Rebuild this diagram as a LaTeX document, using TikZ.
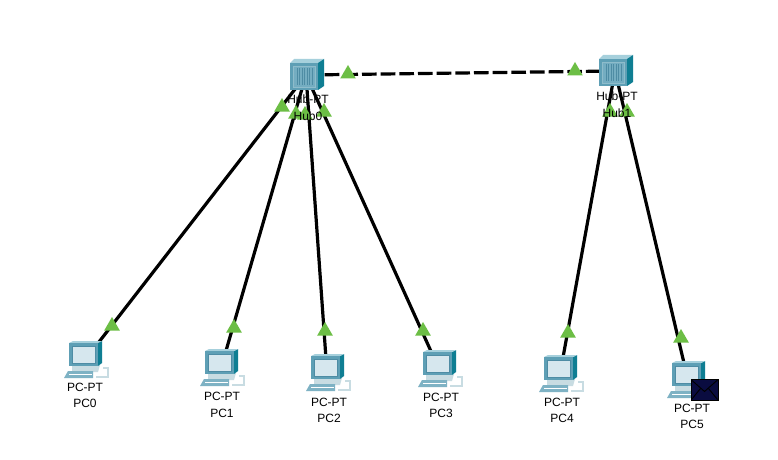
\documentclass[tikz,border=0pt]{standalone}
\usepackage{fontspec}
\setmainfont{Liberation Sans}
\usetikzlibrary{shapes.geometric}
\definecolor{linkgreen}{HTML}{6CBE45}
\definecolor{boxface}{HTML}{5E9FB5}
\definecolor{boxinner}{HTML}{74ADC1}
\definecolor{boxtop}{HTML}{A6D0DC}
\definecolor{boxside}{HTML}{0F7E93}
\definecolor{boxvent}{HTML}{4E8CA4}
\definecolor{screenpale}{HTML}{D6E7EE}
\definecolor{kbdpale}{HTML}{C8DCE2}
\definecolor{mailnavy}{HTML}{0A0C40}
\tikzset{
  x=0.75pt, y=-0.75pt,
  anchorpt/.style={inner sep=0pt, minimum size=0pt, outer sep=0pt},
  wire/.style={line width=2.4pt, black},
  dashwire/.style={wire, dash pattern=on 11pt off 3pt},
  portmark/.style={regular polygon, regular polygon sides=3, fill=linkgreen, inner sep=0pt, minimum size=13.5pt, draw=none},
  devlabel/.style={font=\fontsize{9}{9}\selectfont, inner sep=0pt, black},
  hubicon/.pic={
    % box with a slanted top and side, grille on the front face
    \fill[boxtop] (-16,-12) -- (-12,-16) -- (18,-16) -- (13,-12) -- cycle;
    \fill[boxside] (12,-12) -- (18,-16) -- (18,11) -- (12,15) -- cycle;
    \fill[boxface] (-16,-12) rectangle (12,15);
    \fill[boxinner] (-13,-9) rectangle (9,12);
    \draw[boxface!70!white, line width=0.5pt] (-13,-9) rectangle (9,12);
    \foreach \v in {-9,-6.5,-4,-1.5,1,3.5,6}
      \draw[boxvent, line width=0.6pt] (\v,-7) -- (\v,10);
  },
  pcicon/.pic={
    % keyboard and base
    \fill[kbdpale] (-13,5) -- (15,5) -- (13,12) -- (-13,12) -- cycle;
    \fill[boxface!80!white] (-17,11) -- (8,11) -- (8,18) -- (-21,18) -- cycle;
    \draw[white, line width=0.4pt] (-16,14) -- (7,14);
    \draw[kbdpale, line width=0.9pt] (18,8) -- (23,8) -- (23,17) -- (11,17);
    % monitor
    \fill[boxside] (13,-17) -- (17,-19) -- (17,3) -- (13,6) -- cycle;
    \fill[boxtop] (-16,-17) -- (-12,-19) -- (17,-19) -- (13,-17) -- cycle;
    \fill[boxface] (-16,-17) rectangle (13,6);
    \fill[screenpale] (-13,-14) rectangle (10,3);
    \draw[boxvent, line width=0.4pt] (-13,-14) rectangle (10,3);
  },
  envelopeicon/.pic={
    \fill[mailnavy] (-13.5,-10.5) rectangle (13.5,10.5);
    \draw[black, line width=0.6pt] (-13.5,-10.5) rectangle (13.5,10.5);
    \draw[black, line width=0.7pt] (-13,-9.5) -- (0,2) -- (13,-9.5);
    \draw[black, line width=0.7pt] (-13,10) -- (-4,-1) (13,10) -- (4,-1);
  }
}
\begin{document}
\begin{tikzpicture}
\useasboundingbox (0,0) rectangle (778,460);
\fill[white] (0,0) rectangle (778,460);

% device positions
\node[anchorpt] (hub0) at (306,75) {};
\node[anchorpt] (hub1) at (615,71) {};
\node[anchorpt] (pc0) at (85,360) {};
\node[anchorpt] (pc1) at (221,368) {};
\node[anchorpt] (pc2) at (327,373) {};
\node[anchorpt] (pc3) at (439,369) {};
\node[anchorpt] (pc4) at (560,374) {};
\node[anchorpt] (pc5) at (688,380) {};

% cabling
\draw[dashwire] (hub0.center) -- (hub1.center);
\foreach \p in {pc0,pc1,pc2,pc3} \draw[wire] (hub0.center) -- (\p.center);
\foreach \p in {pc4,pc5} \draw[wire] (hub1.center) -- (\p.center);

% link state markers
\foreach \n/\x/\y in {m0/282/107,m1/296/114,m2/305/115,m3/324/112,m4/348/74,m5/575/71,m6/610/112,m7/627/112,
  m8/112/326,m9/234/328,m10/325/331,m11/423/331,m12/568/333,m13/681/338}
  \node[portmark] (\n) at (\x,\y) {};

% device icons
\pic at (hub0) {hubicon};
\pic at (hub1) {hubicon};
\foreach \p in {pc0,pc1,pc2,pc3,pc4,pc5} \pic at (\p) {pcicon};
\node[anchorpt] (mail) at (704.5,389.5) {};
\pic at (mail) {envelopeicon};

% labels
\foreach \n/\x/\ya/\yb/\t/\u in {
  lh0/308/99/116/Hub-PT/Hub0,
  lh1/617/96/113/Hub-PT/Hub1,
  l0/85/387/403/PC-PT/PC0,
  l1/222/396/413/PC-PT/PC1,
  l2/329/402/418/PC-PT/PC2,
  l3/441/397/413/PC-PT/PC3,
  l4/562/402/418/PC-PT/PC4,
  l5/692/408/424/PC-PT/PC5}{
  \node[devlabel] (\n a) at (\x,\ya) {\t};
  \node[devlabel] (\n b) at (\x,\yb) {\u};
}
\end{tikzpicture}
\end{document}
